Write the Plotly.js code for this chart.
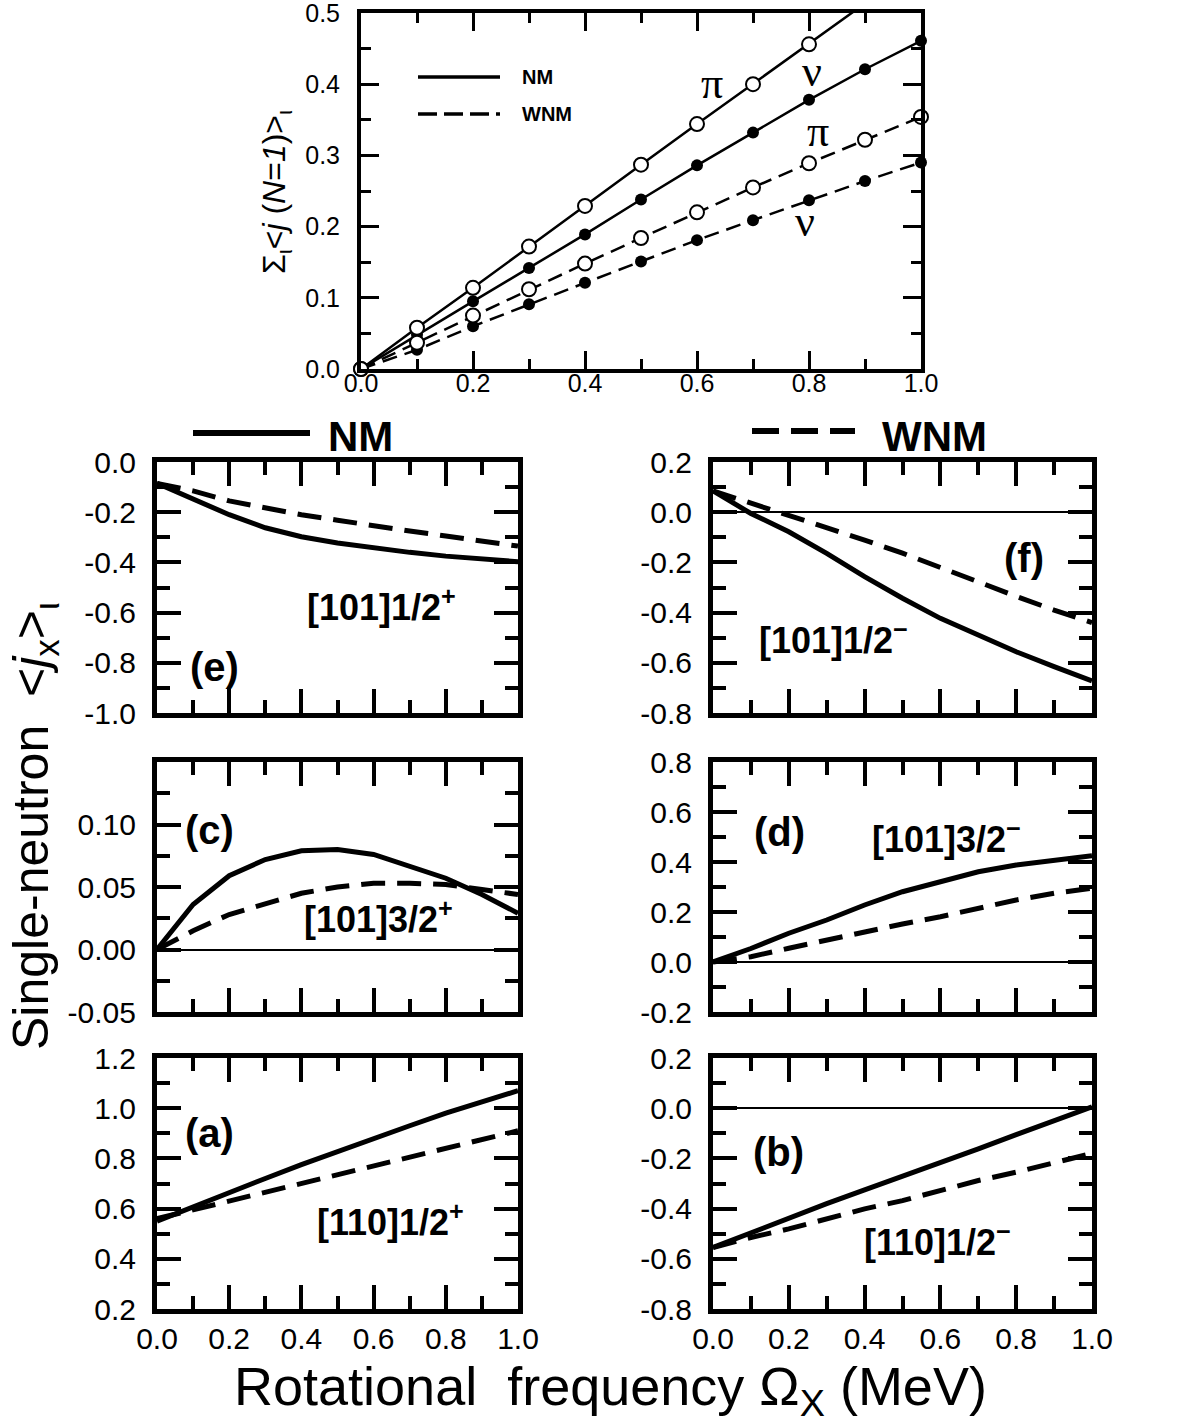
<!DOCTYPE html>
<html><head><meta charset="utf-8">
<script src="https://cdn.plot.ly/plotly-3.0.1.min.js"></script>
<style>body{margin:0;background:#fff}</style>
</head><body>
<div id="chart" style="width:1189px;height:1425px"></div>
<script>
// ---------- DATA ----------
const omega = [0, 0.1, 0.2, 0.3, 0.4, 0.5, 0.6, 0.7, 0.8, 0.9, 1.0];

// top panel: sum over orbitals <j (N=1)>
const piNM_sum  = [0, 0.058, 0.114, 0.172, 0.229, 0.287, 0.344, 0.400, 0.456, 0.513, 0.570];
const nuNM_sum  = [0, 0.048, 0.095, 0.142, 0.189, 0.238, 0.286, 0.332, 0.378, 0.421, 0.461];
const piWNM_sum = [0, 0.037, 0.075, 0.112, 0.148, 0.184, 0.220, 0.255, 0.289, 0.322, 0.354];
const nuWNM_sum = [0, 0.027, 0.060, 0.091, 0.121, 0.151, 0.181, 0.209, 0.237, 0.264, 0.290];

// (e) [101]1/2+
const eNM  = [-0.085, -0.145, -0.210, -0.262, -0.298, -0.323, -0.343, -0.360, -0.375, -0.386, -0.397];
const eWNM = [-0.085, -0.115, -0.155, -0.185, -0.210, -0.232, -0.255, -0.275, -0.295, -0.315, -0.335];
// (f) [101]1/2-
const fNM  = [0.085, -0.005, -0.078, -0.164, -0.257, -0.343, -0.423, -0.489, -0.556, -0.615, -0.672];
const fWNM = [0.085, 0.036, -0.011, -0.058, -0.111, -0.163, -0.222, -0.277, -0.335, -0.390, -0.440];
// (c) [101]3/2+
const cNM  = [0, 0.036, 0.059, 0.072, 0.079, 0.080, 0.076, 0.067, 0.057, 0.044, 0.029];
const cWNM = [0, 0.015, 0.028, 0.037, 0.045, 0.050, 0.053, 0.053, 0.052, 0.048, 0.044];
// (d) [101]3/2-
const dNM  = [0, 0.054, 0.115, 0.168, 0.228, 0.281, 0.321, 0.361, 0.388, 0.408, 0.425];
const dWNM = [0, 0.021, 0.055, 0.088, 0.121, 0.152, 0.181, 0.215, 0.248, 0.275, 0.295];
// (a) [110]1/2+
const aNM  = [0.550, 0.608, 0.665, 0.720, 0.775, 0.828, 0.880, 0.930, 0.980, 1.025, 1.070];
const aWNM = [0.560, 0.595, 0.630, 0.665, 0.700, 0.735, 0.770, 0.805, 0.840, 0.875, 0.910];
// (b) [110]1/2-
const bNM  = [-0.555, -0.495, -0.435, -0.380, -0.325, -0.272, -0.217, -0.162, -0.105, -0.050, 0.005];
const bWNM = [-0.555, -0.515, -0.481, -0.441, -0.401, -0.368, -0.328, -0.288, -0.255, -0.215, -0.180];

// tick values / labels
const xTickVals = [0, 0.2, 0.4, 0.6, 0.8, 1.0];
const xTickText = ["0.0", "0.2", "0.4", "0.6", "0.8", "1.0"];
const topYVals = [0, 0.1, 0.2, 0.3, 0.4, 0.5];
const topYText = ["0.0", "0.1", "0.2", "0.3", "0.4", "0.5"];
const eVals = [0, -0.2, -0.4, -0.6, -0.8, -1.0];
const eText = ["0.0", "-0.2", "-0.4", "-0.6", "-0.8", "-1.0"];
const fVals = [0.2, 0, -0.2, -0.4, -0.6, -0.8];
const fText = ["0.2", "0.0", "-0.2", "-0.4", "-0.6", "-0.8"];
const cVals = [-0.05, 0, 0.05, 0.10];
const cText = ["-0.05", "0.00", "0.05", "0.10"];
const dVals = [-0.2, 0, 0.2, 0.4, 0.6, 0.8];
const dText = ["-0.2", "0.0", "0.2", "0.4", "0.6", "0.8"];
const aVals = [0.2, 0.4, 0.6, 0.8, 1.0, 1.2];
const aText = ["0.2", "0.4", "0.6", "0.8", "1.0", "1.2"];
const bVals = [-0.8, -0.6, -0.4, -0.2, 0, 0.2];
const bText = ["-0.8", "-0.6", "-0.4", "-0.2", "0.0", "0.2"];

// ---------- LAYOUT HELPERS ----------
const W = 1189, H = 1425;
const px = v => v / W;
const py = v => 1 - v / H;
const SANS = "Liberation Sans, Arial, Helvetica, sans-serif";
const SERIF = "Liberation Serif, Times New Roman, serif";

const traces = [];

// top panel
function inRange(arr, lo, hi) { return arr.map(v => (v >= lo && v <= hi) ? v : null); }
const topLine = (y, dash) => ({x: omega, y: y, xaxis: 'x', yaxis: 'y', mode: 'lines',
  line: {color: 'black', width: 2.5, dash: dash}, hoverinfo: 'skip'});
const topMark = (y, open) => ({x: omega, y: inRange(y, 0, 0.5), xaxis: 'x', yaxis: 'y', mode: 'markers',
  cliponaxis: false,
  marker: open ? {symbol: 'circle', size: 14, color: 'white', line: {color: 'black', width: 2}}
               : {symbol: 'circle', size: 12, color: 'black', line: {color: 'black', width: 0}},
  hoverinfo: 'skip'});
traces.push(topLine(nuWNM_sum, '15px,8px'), topLine(piWNM_sum, '15px,8px'),
            topLine(nuNM_sum, 'solid'), topLine(piNM_sum, 'solid'));
traces.push(topMark(nuWNM_sum, false), topMark(nuNM_sum, false),
            topMark(piWNM_sum, true), topMark(piNM_sum, true));

// lower panels
function pair(n, nm, wnm) {
  traces.push({x: omega, y: nm, xaxis: 'x' + n, yaxis: 'y' + n, mode: 'lines',
    line: {color: 'black', width: 5}, hoverinfo: 'skip'});
  traces.push({x: omega, y: wnm, xaxis: 'x' + n, yaxis: 'y' + n, mode: 'lines',
    line: {color: 'black', width: 5, dash: '24px,12px'}, hoverinfo: 'skip'});
}
pair(2, eNM, eWNM);
pair(3, fNM, fWNM);
pair(4, cNM, cWNM);
pair(5, dNM, dWNM);
pair(6, aNM, aWNM);
pair(7, bNM, bWNM);

const base = {showline: true, mirror: 'ticks', linecolor: 'black', ticks: 'inside', tickcolor: 'black',
  showgrid: false, zeroline: false, fixedrange: true, ticklabeloverflow: 'allow'};

function lowX(dom, anchor, labels) {
  return Object.assign({}, base, {domain: dom, anchor: anchor, range: [0, 1], linewidth: 5,
    tickwidth: 4, ticklen: 24, tickmode: 'array', tickvals: xTickVals, ticktext: xTickText,
    showticklabels: labels, ticklabelstandoff: -1,
    tickfont: {family: SANS, size: 30, color: 'black'},
    minor: {ticks: 'inside', ticklen: 13, tickwidth: 4, tickcolor: 'black', tickmode: 'linear', tick0: 0, dtick: 0.1, showgrid: false}});
}
function lowY(dom, anchor, range, vals, text, minorStep, zero) {
  return Object.assign({}, base, {domain: dom, anchor: anchor, range: range, linewidth: 5,
    tickwidth: 4, ticklen: 24, tickmode: 'array', tickvals: vals, ticktext: text,
    ticklabelstandoff: 10,
    tickfont: {family: SANS, size: 30, color: 'black'},
    zeroline: !!zero, zerolinecolor: 'black', zerolinewidth: 2,
    minor: {ticks: 'inside', ticklen: 13, tickwidth: 4, tickcolor: 'black', tickmode: 'linear', tick0: 0, dtick: minorStep, showgrid: false}});
}

const L = [px(157), px(518)], R = [px(713), px(1092)];
const row1 = [py(713), py(462)], row2 = [py(1012), py(762)], row3 = [py(1309), py(1058)];

const layout = {
  width: W, height: H, margin: {l: 0, r: 0, t: 0, b: 0},
  paper_bgcolor: 'white', plot_bgcolor: 'white', showlegend: false, hovermode: false,
  font: {family: SANS, color: 'black'},
  xaxis: Object.assign({}, base, {domain: [px(361), px(921)], anchor: 'y', range: [0, 1], linewidth: 4,
    tickwidth: 3, ticklen: 18, tickmode: 'array', tickvals: xTickVals, ticktext: xTickText,
    ticklabelstandoff: -11, tickfont: {family: SANS, size: 25, color: 'black'},
    minor: {ticks: 'inside', ticklen: 10, tickwidth: 3, tickcolor: 'black', tickmode: 'linear', tick0: 0, dtick: 0.1, showgrid: false}}),
  yaxis: Object.assign({}, base, {domain: [py(369), py(13)], anchor: 'x', range: [0, 0.5], linewidth: 4,
    tickwidth: 3, ticklen: 18, tickmode: 'array', tickvals: topYVals, ticktext: topYText,
    ticklabelstandoff: 12, tickfont: {family: SANS, size: 25, color: 'black'},
    minor: {ticks: 'inside', ticklen: 10, tickwidth: 3, tickcolor: 'black', tickmode: 'linear', tick0: 0, dtick: 0.05, showgrid: false}}),
  xaxis2: lowX(L, 'y2', false), yaxis2: lowY(row1, 'x2', [-1.0, 0.0], eVals, eText, 0.1, false),
  xaxis3: lowX(R, 'y3', false), yaxis3: lowY(row1, 'x3', [-0.8, 0.2], fVals, fText, 0.1, true),
  xaxis4: lowX(L, 'y4', false), yaxis4: lowY(row2, 'x4', [-0.05, 0.15], cVals, cText, 0.025, true),
  xaxis5: lowX(R, 'y5', false), yaxis5: lowY(row2, 'x5', [-0.2, 0.8], dVals, dText, 0.1, true),
  xaxis6: lowX(L, 'y6', true),  yaxis6: lowY(row3, 'x6', [0.2, 1.2], aVals, aText, 0.1, false),
  xaxis7: lowX(R, 'y7', true),  yaxis7: lowY(row3, 'x7', [-0.8, 0.2], bVals, bText, 0.1, true),
  shapes: [
    {type: 'line', xref: 'paper', yref: 'paper', x0: px(418), x1: px(500), y0: py(77), y1: py(77), line: {color: 'black', width: 3.5}},
    {type: 'line', xref: 'paper', yref: 'paper', x0: px(418), x1: px(500), y0: py(114), y1: py(114), line: {color: 'black', width: 3.5, dash: '19px,7px'}},
    {type: 'line', xref: 'paper', yref: 'paper', x0: px(193), x1: px(310), y0: py(433), y1: py(433), line: {color: 'black', width: 6}},
    {type: 'line', xref: 'paper', yref: 'paper', x0: px(752), x1: px(855), y0: py(431), y1: py(431), line: {color: 'black', width: 6, dash: '27px,12px'}}
  ],
  annotations: []
};

function ann(text, x, y, size, opts) {
  layout.annotations.push(Object.assign({text: text, xref: 'paper', yref: 'paper', x: px(x), y: py(y),
    showarrow: false, xanchor: 'center', yanchor: 'middle',
    font: {family: SANS, size: size, color: 'black'}}, opts || {}));
}
// top legend
ann('<b>NM</b>', 520, 77, 20, {xanchor: 'left'});
ann('<b>WNM</b>', 520, 114, 20, {xanchor: 'left'});
// greek labels
const greek = {family: SERIF, size: 44, color: 'black'};
ann('π', 712, 83, 44, {font: greek});
ann('ν', 812, 71, 44, {font: greek});
ann('π', 818, 131, 44, {font: greek});
ann('ν', 805, 221, 44, {font: greek});
// top y title
ann('Σ<sub>ι</sub>&lt;<i>j</i> (<i>N</i>=<i>1</i>)&gt;<sub>ι</sub>', 276, 192, 32, {textangle: -90});
// lower legend
ann('<b>NM</b>', 326, 436, 42, {xanchor: 'left'});
ann('<b>WNM</b>', 880, 436, 42, {xanchor: 'left'});
// panel labels
ann('<b>(e)</b>', 214, 667, 40);
ann('<b>[101]1/2<sup>+</sup></b>', 305, 605, 36, {xanchor: 'left'});
ann('<b>(f)</b>', 1024, 558, 40);
ann('<b>[101]1/2<sup>−</sup></b>', 757, 638, 36, {xanchor: 'left'});
ann('<b>(c)</b>', 209, 830, 40);
ann('<b>[101]3/2<sup>+</sup></b>', 302, 917, 36, {xanchor: 'left'});
ann('<b>(d)</b>', 779, 832, 40);
ann('<b>[101]3/2<sup>−</sup></b>', 870, 837, 36, {xanchor: 'left'});
ann('<b>(a)</b>', 209, 1133, 40);
ann('<b>[110]1/2<sup>+</sup></b>', 315, 1220, 36, {xanchor: 'left'});
ann('<b>(b)</b>', 778, 1152, 40);
ann('<b>[110]1/2<sup>−</sup></b>', 862, 1240, 36, {xanchor: 'left'});
// axis titles
ann('Single-neutron\u00a0\u00a0&lt;<i>j</i><sub>x</sub>&gt;<sub>ι</sub>', 34, 826, 50, {textangle: -90});
ann('Rotational\u00a0\u00a0frequency Ω<sub>X</sub> (MeV)', 610, 1390, 54);

Plotly.newPlot('chart', traces, layout, {staticPlot: true, displayModeBar: false});
</script>
</body></html>
